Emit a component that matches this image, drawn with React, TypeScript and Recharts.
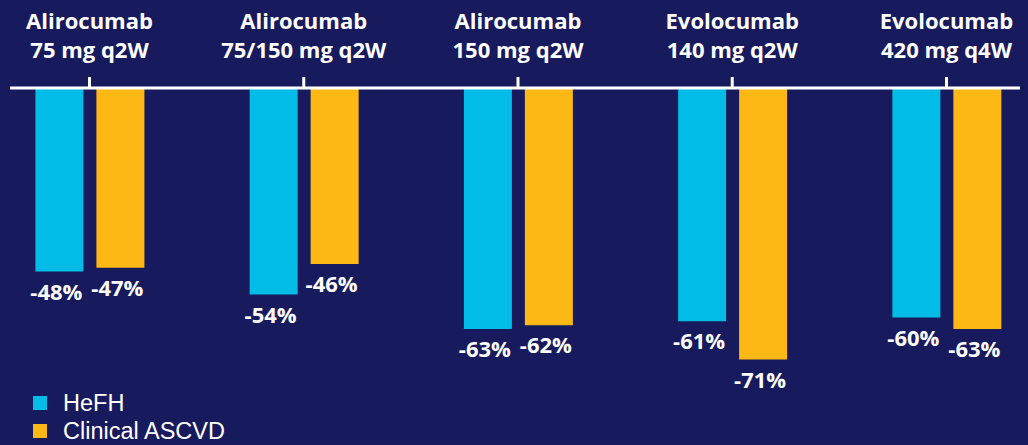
import { BarChart, Bar, XAxis, YAxis, LabelList } from 'recharts';

const categories = [
  'Alirocumab\n75 mg q2W',
  'Alirocumab\n75/150 mg q2W',
  'Alirocumab\n150 mg q2W',
  'Evolocumab\n140 mg q2W',
  'Evolocumab\n420 mg q4W',
];
const hefh = [-48, -54, -63, -61, -60];
const ascvd = [-47, -46, -62, -71, -63];

const seriesNames = ['HeFH', 'Clinical ASCVD'];
const seriesColors = ['#00BCE6', '#FDB815'];

const BG = '#181A5E';
const FONT = '"Open Sans", "Noto Sans", sans-serif';

const data = categories.map((name, i) => ({ name, hefh: hefh[i], ascvd: ascvd[i] }));

// two-line drug label above the axis
const CategoryTick = (props: any) => {
  const { x, y, payload } = props;
  const lines = String(payload.value).split('\n');
  return (
    <text x={x} textAnchor="middle" fill="#fff" fontFamily={FONT} fontWeight={700} fontSize={22}>
      <tspan x={x} y={y - 46}>{lines[0]}</tspan>
      <tspan x={x} y={y - 17}>{lines[1]}</tspan>
    </text>
  );
};

const ValueLabel = (props: any) => {
  const { x, y, width, height, value } = props;
  const bottom = Math.max(y, y + height);
  return (
    <text
      x={x + width / 2 - 3}
      y={bottom + 28}
      textAnchor="middle"
      fill="#fff"
      fontFamily={FONT}
      fontWeight={700}
      fontSize={22}
    >
      {`${value}%`}
    </text>
  );
};

export default function App() {
  return (
    <div style={{ position: 'absolute', left: 0, top: 0, width: 1028, height: 445, background: BG, overflow: 'hidden' }}>
      <BarChart
        width={1028}
        height={445}
        data={data}
        margin={{ top: 8, right: 8, left: 10, bottom: 51 }}
        barSize={48}
        barGap={13}
      >
        <XAxis
          dataKey="name"
          orientation="top"
          height={80}
          interval={0}
          padding={{ left: -27.6, right: -33.6 }}
          axisLine={{ stroke: '#fff', strokeWidth: 3 }}
          tickLine={{ stroke: '#fff', strokeWidth: 3 }}
          tickSize={11}
          tick={<CategoryTick />}
        />
        <YAxis hide domain={[-80, 0]} />
        <Bar dataKey="hefh" name={seriesNames[0]} fill={seriesColors[0]} isAnimationActive={false}>
          <LabelList dataKey="hefh" content={<ValueLabel />} />
        </Bar>
        <Bar dataKey="ascvd" name={seriesNames[1]} fill={seriesColors[1]} isAnimationActive={false}>
          <LabelList dataKey="ascvd" content={<ValueLabel />} />
        </Bar>
      </BarChart>
      <div style={{ position: 'absolute', left: 33, top: 389 }}>
        {seriesNames.map((n, i) => (
          <div
            key={n}
            style={{
              display: 'flex',
              alignItems: 'center',
              height: 28,
              lineHeight: '28px',
              fontFamily: '"Liberation Sans", Arial, sans-serif',
              fontSize: 23.5,
              color: '#fff',
            }}
          >
            <span style={{ width: 14, height: 14, background: seriesColors[i], marginRight: 16 }} />
            {n}
          </div>
        ))}
      </div>
    </div>
  );
}
